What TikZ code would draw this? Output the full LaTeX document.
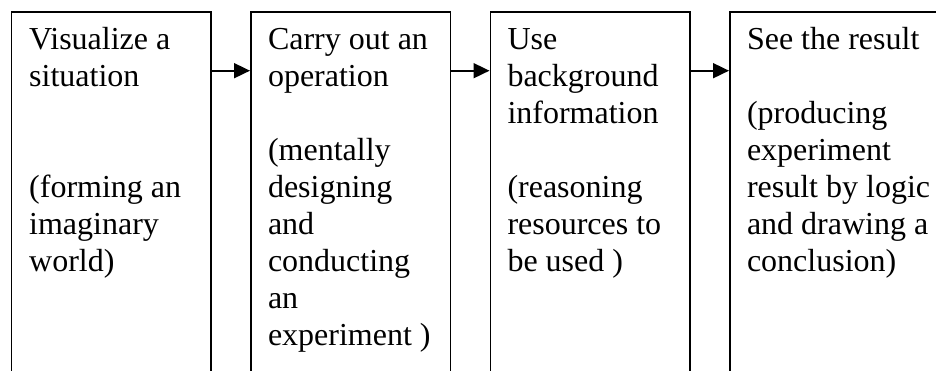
\documentclass[tikz,border=0pt]{standalone}
\usepackage{fontspec}
\setmainfont{Liberation Serif}
\usetikzlibrary{arrows.meta}
\begin{document}
\begin{tikzpicture}[x=1pt,y=-1pt,
  stagebox/.style={draw, line width=1.8pt, anchor=north west,
    minimum width=199.5pt, minimum height=420pt, inner sep=0pt},
  stagetext/.style={anchor=base west, inner sep=0pt,
    font=\fontsize{32}{36.9}\selectfont},
  flow/.style={line width=1.8pt, -{Triangle[length=16pt,width=15pt]}}]
\useasboundingbox (0,0) rectangle (936,371);
\clip (0,0) rectangle (936,371);

% the four stages; their lower ends run off the page
\node[stagebox] (b1) at (10.5,11) {};
\node[stagebox] (b2) at (250,11) {};
\node[stagebox] (b3) at (489.5,11) {};
\node[stagebox, minimum width=240pt] (b4) at (729,11) {};

% stage texts
\node[stagetext] (t1) at ([shift={(18.5pt,-39pt)}]b1.north west)
  {\begin{tabular}[t]{@{}l@{}}Visualize a\\situation\\ \\ \\(forming an\\imaginary\\world)\end{tabular}};
\node[stagetext] (t2) at ([shift={(17.8pt,-39pt)}]b2.north west)
  {\begin{tabular}[t]{@{}l@{}}Carry out an\\operation\\ \\(mentally\\designing\\and\\conducting\\an\\experiment )\end{tabular}};
\node[stagetext] (t3) at ([shift={(17.8pt,-39pt)}]b3.north west)
  {\begin{tabular}[t]{@{}l@{}}Use\\background\\information\\ \\(reasoning\\resources to\\be used )\end{tabular}};
\node[stagetext] (t4) at ([shift={(17.8pt,-39pt)}]b4.north west)
  {\begin{tabular}[t]{@{}l@{}}See the result\\ \\(producing\\experiment\\result by logic\\and drawing a\\conclusion)\end{tabular}};

% arrows between stages
\draw[flow] ([yshift=-59.7pt]b1.north east) -- ([yshift=-59.7pt]b2.north west);
\draw[flow] ([yshift=-59.7pt]b2.north east) -- ([yshift=-59.7pt]b3.north west);
\draw[flow] ([yshift=-59.7pt]b3.north east) -- ([yshift=-59.7pt]b4.north west);
\end{tikzpicture}
\end{document}
